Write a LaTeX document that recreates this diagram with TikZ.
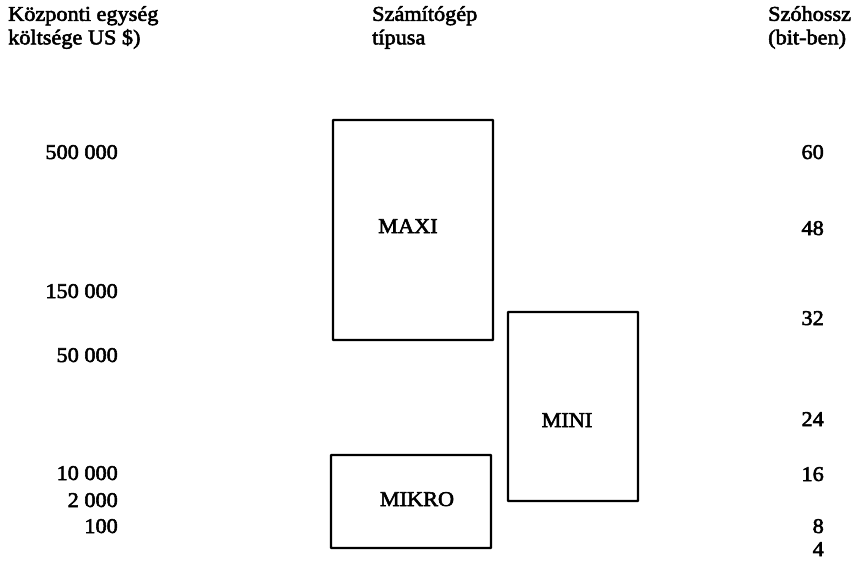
\documentclass[tikz,border=0pt]{standalone}
\usepackage{fontspec}
\setmainfont{Liberation Serif}[FakeStretch=1.06,FakeBold=2.6]
\begin{document}
\begin{tikzpicture}[x=1pt,y=-1pt,
  lbl/.style={inner sep=0pt,font=\fontsize{21}{23.5}\selectfont},
  head/.style={lbl,align=left,anchor=north west},
  cost/.style={lbl,anchor=base east},
  bits/.style={lbl,anchor=base east},
  typebox/.style={draw,line width=2.4pt,inner sep=0pt,rounded corners=0.6pt}]
\useasboundingbox (0,0) rectangle (854,560);

% column headings
\node[head] (hcost) at (8,6) {Központi egység\\költsége US \$)};
\node[head] (htype) at (372,6) {Számítógép\\típusa};
\node[head] (hbits) at (768,6) {Szóhossz\\(bit-ben)};

% cost scale
\node[cost] (c500k) at (118,159) {500 000};
\node[cost] (c150k) at (118,298) {150 000};
\node[cost] (c50k)  at (118,362) {50 000};
\node[cost] (c10k)  at (118,480) {10 000};
\node[cost] (c2k)   at (118,507) {2 000};
\node[cost] (c100)  at (118,533) {100};

% word length scale
\node[bits] (w60) at (824,159) {60};
\node[bits] (w48) at (824,235) {48};
\node[bits] (w32) at (824,325) {32};
\node[bits] (w24) at (824,426) {24};
\node[bits] (w16) at (824,481) {16};
\node[bits] (w8)  at (824,533) {8};
\node[bits] (w4)  at (824,556) {4};

% computer classes
\draw[typebox] (333,120) rectangle (493,340);
\draw[typebox] (508,312) rectangle (638,501);
\draw[typebox] (331,455) rectangle (491,548);
\node[lbl,anchor=base] (maxi)  at (408,233) {MAXI};
\node[lbl,anchor=base] (mini)  at (567,427) {MINI};
\node[lbl,anchor=base] (mikro) at (417,506) {MIKRO};
\end{tikzpicture}
\end{document}
